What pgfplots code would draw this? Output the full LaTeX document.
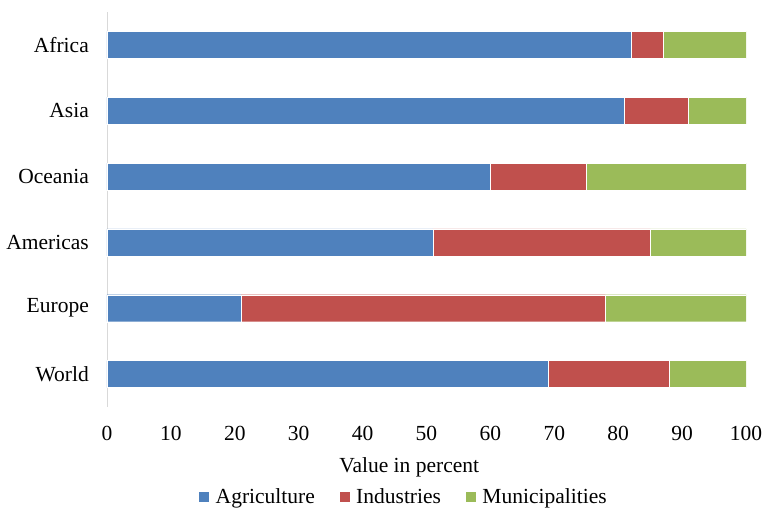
\documentclass[border=0pt]{standalone}
\usepackage{fontspec}
\setmainfont{Liberation Serif}
\usepackage{pgfplots}
\pgfplotsset{compat=1.18}
\definecolor{cA}{HTML}{4F81BD}
\definecolor{cI}{HTML}{C0504D}
\definecolor{cM}{HTML}{9BBB59}
\begin{document}
\begin{tikzpicture}
\begin{axis}[
  at={(0,0)}, anchor=south west,
  scale only axis,
  width=639pt, height=395pt,
  xbar stacked,
  bar width=27pt,
  xmin=0, xmax=100,
  ymin=-0.5, ymax=5.5,
  xtick={0,10,...,100},
  ytick={0,1,2,3,4,5},
  yticklabels={World,Europe,Americas,Oceania,Asia,Africa},
  axis lines*=left,
  x axis line style={draw=none},
  y axis line style={draw=black!15, line width=0.8pt, -},
  major tick length=0pt,
  /pgf/number format/assume math mode=true,
  tick label style={font=\fontsize{21.5}{25}\selectfont, inner sep=0pt},
  xticklabel style={anchor=base, yshift=-34pt},
  yticklabel style={anchor=east, xshift=-18pt},
  xlabel={Value in percent},
  xlabel style={font=\fontsize{21.5}{25}\selectfont, at={(axis description cs:0.473,-0.152)}, anchor=center},
  legend style={at={(0.464,-0.228)}, anchor=center, draw=none, legend columns=3,
    font=\fontsize{21.5}{25}\selectfont,
    /tikz/every odd column/.append style={column sep=4pt},
    /tikz/every even column/.append style={column sep=22pt}},
  legend image code/.code={\fill[#1] (0pt,-5.5pt) rectangle (11pt,5.5pt);},
]
\addplot[fill=cA, draw=white, line width=0.4pt] coordinates {(69,0) (21,1) (51,2) (60,3) (81,4) (82,5)};
\addplot[fill=cI, draw=white, line width=0.4pt] coordinates {(19,0) (57,1) (34,2) (15,3) (10,4) (5,5)};
\addplot[fill=cM, draw=white, line width=0.4pt] coordinates {(12,0) (22,1) (15,2) (25,3) (9,4) (13,5)};
\legend{Agriculture,Industries,Municipalities}
\end{axis}
\pgfresetboundingbox
\path[use as bounding box] (-107pt,-103pt) rectangle (657pt,407pt);
\end{tikzpicture}
\end{document}
